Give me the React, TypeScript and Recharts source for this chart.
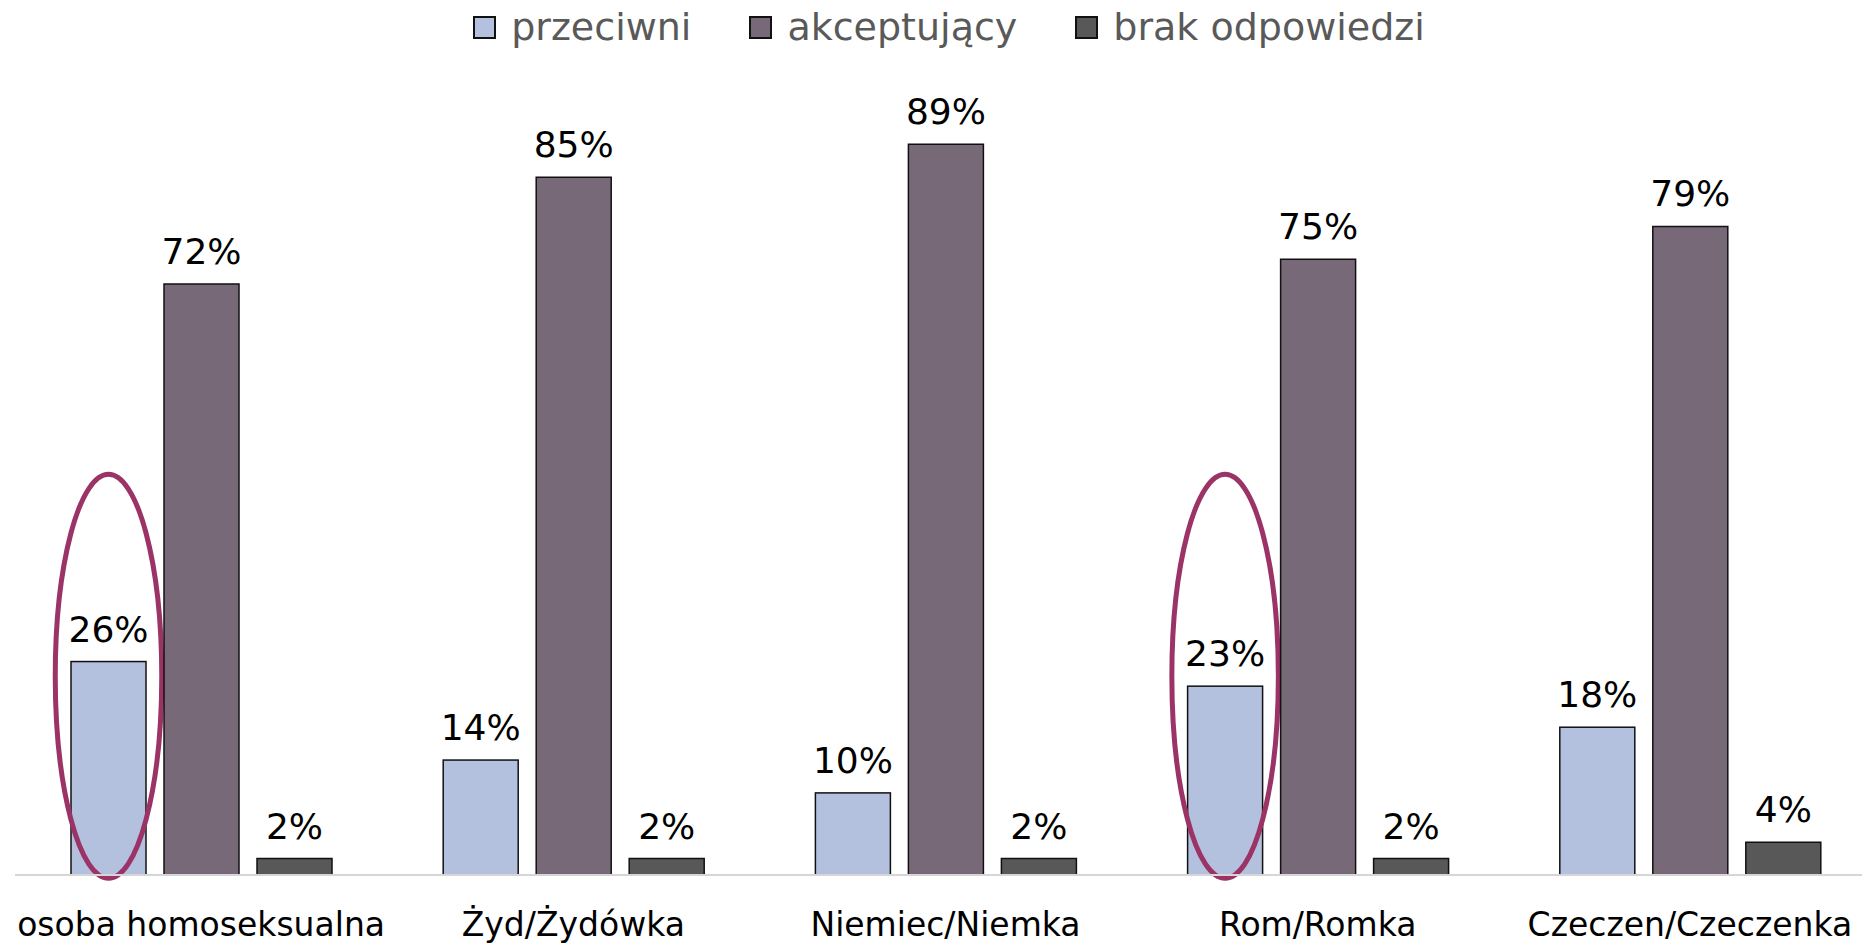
import React from 'react';
import { BarChart, Bar, XAxis, YAxis, LabelList } from 'recharts';

const categories = ['osoba homoseksualna', 'Żyd/Żydówka', 'Niemiec/Niemka', 'Rom/Romka', 'Czeczen/Czeczenka'];
const przeciwni = [26, 14, 10, 23, 18];
const akceptujacy = [72, 85, 89, 75, 79];
const brakOdpowiedzi = [2, 2, 2, 2, 4];
const highlighted = ['osoba homoseksualna', 'Rom/Romka'];
const ellipseCenterValue = 24.2;
const ellipseHalfHeightValue = 24.6;

const seriesNames = ['przeciwni', 'akceptujący', 'brak odpowiedzi'];
const seriesColors = ['#b4c1de', '#786979', '#585858'];

const data = categories.map((c, i) => ({
  category: c,
  przeciwni: przeciwni[i],
  akceptujacy: akceptujacy[i],
  brak: brakOdpowiedzi[i],
}));

const FONT = "'DejaVu Sans', sans-serif";

const PrzeciwniShape = (props: any) => {
  const { x, y, width, height, payload, value } = props;
  const v = Array.isArray(value) ? value[1] - value[0] : value;
  const showEllipse = highlighted.includes(payload.category);
  const base = y + height;
  const unit = v ? height / v : 0;
  return (
    <g>
      <rect x={x} y={y} width={width} height={height} fill={seriesColors[0]} stroke="#111" strokeWidth={1.5} />
      {showEllipse && (
        <ellipse
          cx={x + width / 2}
          cy={base - ellipseCenterValue * unit}
          rx={width * 0.71}
          ry={ellipseHalfHeightValue * unit}
          fill="none"
          stroke="#9b3366"
          strokeWidth={5}
        />
      )}
    </g>
  );
};

const fmt = (v: any) => `${v}%`;

export default function App() {
  return (
    <div style={{ position: 'relative', width: 1862, height: 937, fontFamily: FONT }}>
      <BarChart
        width={1862}
        height={937}
        data={data}
        margin={{ top: 46, right: -6, left: 7, bottom: 0 }}
        barSize={75}
        barGap={18}
      >
        <XAxis
          dataKey="category"
          interval={0}
          height={70}
          axisLine={{ stroke: '#d6d6d6', strokeWidth: 2 }}
          tickLine={false}
          tickSize={0}
          tickMargin={38}
          tick={{ fill: '#000', fontSize: 33, fontFamily: FONT }}
        />
        <YAxis hide domain={[0, 100]} />
        <Bar dataKey="przeciwni" isAnimationActive={false} shape={<PrzeciwniShape />}>
          <LabelList dataKey="przeciwni" position="top" offset={20} formatter={fmt} fill="#000" fontSize={36} fontFamily={FONT} />
        </Bar>
        <Bar dataKey="akceptujacy" isAnimationActive={false} fill={seriesColors[1]} stroke="#111" strokeWidth={1.5}>
          <LabelList dataKey="akceptujacy" position="top" offset={20} formatter={fmt} fill="#000" fontSize={36} fontFamily={FONT} />
        </Bar>
        <Bar dataKey="brak" isAnimationActive={false} fill={seriesColors[2]} stroke="#111" strokeWidth={1.5}>
          <LabelList dataKey="brak" position="top" offset={20} formatter={fmt} fill="#000" fontSize={36} fontFamily={FONT} />
        </Bar>
      </BarChart>
      <div
        style={{
          position: 'absolute',
          top: 0,
          left: 0,
          width: 1862,
          height: 38,
          display: 'flex',
          justifyContent: 'center',
          alignItems: 'center',
          paddingLeft: 20,
          boxSizing: 'border-box',
        }}
      >
        {seriesNames.map((n, i) => (
          <div key={n} style={{ display: 'flex', alignItems: 'center', marginRight: i < seriesNames.length - 1 ? 58 : 0 }}>
            <div
              style={{
                width: 19,
                height: 19,
                background: seriesColors[i],
                border: '2px solid #111',
                marginRight: 15,
              }}
            />
            <span style={{ fontSize: 38, lineHeight: '38px', color: '#595959', fontFamily: FONT }}>{n}</span>
          </div>
        ))}
      </div>
    </div>
  );
}
